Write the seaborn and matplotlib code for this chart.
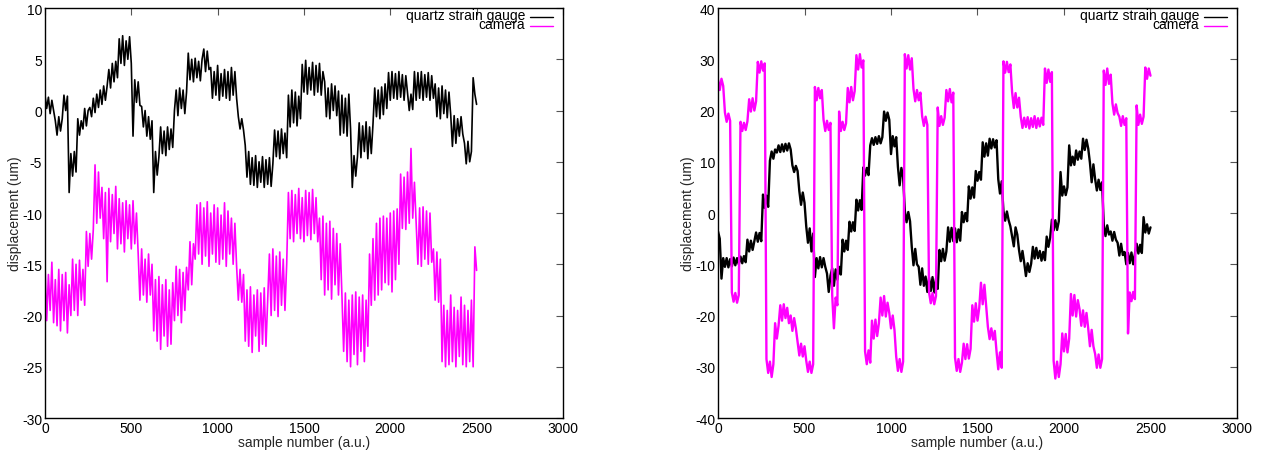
import numpy as np
import matplotlib
matplotlib.use("Agg")
import matplotlib.pyplot as plt
import seaborn as sns

# ---------------- data ----------------
# left panel: one value every 10 samples
left_step = 10
left_quartz = [
    1.5, 0.2, 1.3, -0.3, 1.0, 0.0,
    -1.0, -2.4, -0.6, -2.0, -0.8,
    1.5, 0.0, 1.4,
    -8.0,
    -4.2, -6.4, -4.0, -6.0,
    -0.8, -2.4, -1.0,
    -1.8, 0.2, -1.5, 0.0,
    0.3, -0.6, 1.2, -0.2, 1.6, 0.3, 2.0, 0.6, 2.4, 1.0,
    2.4, 4.0, 2.2, 4.6, 2.8, 4.8, 3.2,
    7.0, 4.6, 7.3, 4.4, 6.8, 5.0, 7.2, 4.6,
    -2.5,
    3.0, 0.8, 2.8, 0.5,
    0.4, -1.6, 0.0, -2.5, -0.6, -2.8, -1.0,
    -8.0,
    -4.0, -6.3, -4.5,
    -1.6, -4.2, -2.0, -4.4, -1.6, -3.8, -1.8, -3.6,
    0.0, 2.0, -0.5, 2.2, 0.2, 2.0, -0.3, 1.8,
    5.6,
    3.0, 5.0, 2.8, 5.1, 3.2, 4.8, 2.9, 5.0,
    6.0, 3.8, 5.8, 4.0,
    4.2, 1.2, 3.8, 1.5, 4.4, 1.0, 3.6, 1.4, 4.0, 1.2, 3.8, 1.0, 4.2, 1.5, 3.8, 1.2,
    -0.6, -1.8, -0.8, -1.9,
    -3.4, -6.5, -4.0, -7.2,
    -4.6, -7.3, -4.4, -7.5, -5.0, -7.0, -4.5, -7.5, -4.8, -7.2, -4.6, -7.4, -5.2,
    -1.9, -4.5, -2.0, -4.7, -1.8, -4.2, -2.2, -4.6,
    1.5, -1.6, 2.0, -1.2, 1.8, -1.5, 1.4, -0.8,
    4.5, 1.8, 4.9, 1.6, 4.2, 2.0, 4.7, 1.5, 4.4, 1.8, 4.6, 1.5, 3.8,
    2.8, -0.6, 2.2, -0.8, 2.6, 0.0, 2.4, -0.5,
    1.9, -2.4, 1.5, -2.2, 1.2, -2.5, 1.6, -1.8,
    -7.5,
    -4.4, -6.4,
    -4.5, -1.2, -4.6, -1.5, -4.0, -1.1, -4.7, -1.6, -4.2, -1.3,
    2.2, -0.6, 2.0, -0.8, 2.3, -0.4, 2.6, 0.2,
    3.7, 1.0, 3.8, 1.2, 3.6, 1.1, 3.8, 1.3, 3.5, 1.0, 3.4,
    1.7, 0.0, 1.6, 0.1,
    3.8, 1.0, 3.7, 1.2, 3.8, 1.0, 3.5, 1.3, 3.7, 1.0, 3.4, 1.2,
    2.6, -0.6, 2.2, -0.8, 2.4, -0.3, 2.0, -0.7, 1.8,
    -0.4, -3.5, -0.5, -3.2, -0.8,
    -2.5, -0.6, -2.3,
    -3.2, -5.2, -3.0, -5.0, -4.0,
    3.2,
    1.6, 0.6,
]
left_camera = [
    -15.0, -20.5, -16.0, -19.5, -14.8, -20.7, -16.5, -21.0, -15.5,
    -21.5, -16.0, -20.5, -15.8, -21.7, -17.0, -20.0,
    -14.5, -19.5, -15.0, -20.0, -14.6, -18.5, -15.5, -19.0,
    -11.8, -15.2, -12.0, -14.5, -11.6,
    -5.3, -11.0, -6.0, -10.5,
    -7.5, -12.5, -8.0, -16.7, -7.6, -12.8, -8.2, -12.0, -7.4,
    -13.5, -8.6, -13.0, -9.0, -13.8, -8.8, -12.5, -9.2, -13.5, -8.8, -13.0, -10.0,
    -14.0, -18.5, -13.5, -18.0, -14.5, -18.7, -14.0, -18.0, -15.0,
    -21.5, -16.5, -22.5, -16.2, -23.3, -17.0, -22.0, -16.5, -23.0, -17.5, -22.8, -16.8,
    -20.5, -15.2, -20.0, -15.5, -20.7, -15.8, -19.5, -15.3,
    -17.5, -12.8, -17.0, -13.0,
    -14.5, -9.2, -14.0, -9.0, -15.0, -9.5, -14.2, -8.9, -15.2, -10.0,
    -14.0, -9.2, -14.8, -9.5, -15.0, -10.2, -14.5, -9.0, -15.2, -9.8,
    -14.0, -10.5, -15.0, -11.0,
    -15.2, -18.5, -15.5, -18.7, -16.0,
    -22.5, -17.5, -23.0, -17.2, -23.6, -18.0, -22.0, -17.5, -23.5, -17.8,
    -22.8, -17.3, -23.0, -18.5,
    -14.0, -20.0, -13.5, -19.5, -14.2, -20.1, -13.8, -19.0, -14.5, -19.5, -15.0,
    -8.0, -12.5, -7.8, -12.8, -8.2, -12.0, -7.6, -12.5, -8.5, -12.8,
    -7.8, -12.2, -8.0, -12.6, -7.7, -12.0, -8.5, -12.8,
    -10.5, -16.5, -10.3, -18.0, -11.0, -17.5, -10.8, -18.4, -11.5, -17.0,
    -12.0, -18.0, -13.0,
    -18.0, -23.5, -17.8, -24.5, -18.5, -25.0, -18.0, -23.8, -17.7, -24.8,
    -18.2, -23.5, -18.0, -24.5, -18.5, -23.0,
    -14.0, -19.0, -12.5, -18.5, -11.0, -18.0, -10.5, -17.5, -10.3, -16.8,
    -10.5, -17.0,
    -10.0, -17.7, -9.8, -16.5, -9.6, -15.0,
    -6.2, -11.5, -6.5, -11.6, -6.0, -11.0, -3.7, -10.5, -7.0, -11.0,
    -15.0, -9.5, -15.2, -9.4, -14.5, -9.8, -15.0, -10.0, -14.8,
    -13.5, -18.5, -13.8, -18.7, -14.5,
    -24.5, -19.0, -25.0, -19.5, -24.8, -18.0, -24.5, -19.2, -25.0, -19.5,
    -24.0, -18.2, -24.8, -19.0, -25.0, -19.5, -24.5, -18.5, -25.0,
    -13.3, -15.6,
]

# right panel: one value every 10 samples
right_step = 10
right_quartz = [
    -3.6, -5.0, -12.8, -8.8,
    -10.5, -8.8, -10.6, -9.0, -10.4, -8.7, -10.2, -8.8, -10.0, -8.5, -9.8, -8.4, -9.6,
    -5.2, -7.5, -5.4, -7.2, -5.5,
    -3.8, -5.6, -3.9, -5.5,
    3.6, 1.0, 3.4, 1.2,
    10.2, 12.0, 10.6, 12.4,
    11.8, 13.2, 11.9, 13.4, 12.0, 13.5, 12.2, 13.6, 12.4,
    9.3, 8.0, 9.2, 8.2,
    4.3, 1.6, 4.0, 2.0,
    -2.6, -5.8, -3.0, -7.5, -4.0,
    -12.5, -8.8, -10.8, -8.6, -10.6, -8.8, -10.5,
    -11.8, -15.4, -12.2,
    -10.8, -14.2, -11.0, -13.0, -10.5, -12.0,
    -5.2, -7.5, -5.4, -7.2,
    -1.7, -3.6, -1.8, -3.5,
    2.6, 0.5, 2.5, 0.6,
    8.9, 7.3, 8.8, 7.4,
    13.2, 14.6, 13.3, 14.8, 13.5, 15.0, 13.6, 14.8,
    19.8, 18.0, 19.6, 18.2,
    11.5, 15.0, 13.0, 14.8,
    9.0, 5.4, 8.8, 7.0,
    0.4, -1.8, 0.2, -1.6,
    -6.6, -10.2, -7.0, -10.0,
    -10.5, -14.0, -10.8, -14.2,
    -12.4, -15.4, -12.6, -15.2, -12.5, -15.5, -12.8, -14.8,
    -7.2, -9.4, -7.0, -9.3, -7.5,
    -2.8, -5.6, -2.9, -5.5, -3.0, -5.7, -3.2, -5.4,
    0.2, -1.8, 0.0, -1.6,
    5.2, 2.8, 5.0, 3.0,
    8.2, 6.3, 8.0, 6.5,
    13.8, 11.0, 13.6, 11.2,
    14.5, 12.6, 14.4, 12.8, 14.2,
    6.6, 3.8, 6.2,
    0.4, -1.5, 0.3, -1.4,
    -2.6, -4.5, -6.5, -2.8, -4.2,
    -7.2, -9.4, -7.4,
    -9.7, -12.3, -9.8, -11.5, -9.9,
    -6.6, -8.9, -6.8, -8.8,
    -7.4, -9.3, -7.6, -9.2,
    -4.6, -6.6, -4.8,
    -1.3, -3.4, -1.4, -3.3, -1.6,
    8.0, 3.4, 5.2, 3.5, 5.0,
    13.2, 9.3, 11.0, 9.4,
    12.2, 10.4, 12.0, 10.6,
    14.5, 12.3, 14.3, 12.6,
    9.8, 6.0, 9.5,
    6.6, 4.4, 6.5, 4.5, 6.0,
    -2.3, -4.5, -2.4, -4.2,
    -3.6, -5.4, -3.7, -5.2,
    -5.8, -8.3, -6.0, -8.2,
    -7.6, -10.0, -7.8, -9.8, -7.7, -10.0, -8.0,
    -6.0, -7.9, -6.2, -7.8,
    -0.8, -3.8, -2.2, -4.0, -2.8,
]
right_camera = [
    26.0, 24.0, 26.2, 24.8,
    19.6, 17.8, 19.4, 18.0,
    -15.5, -17.3, -15.6, -17.5, -16.0,
    17.8, 16.0, 17.6, 16.2, 17.9,
    22.2, 19.8, 22.4, 20.0, 21.8,
    29.5, 27.4, 29.6, 27.8, 29.2,
    -28.5, -31.2, -29.0, -32.0, -29.5,
    -21.5, -24.5, -22.0,
    -18.0, -21.0, -17.8, -20.5, -18.5, -21.5,
    -20.0, -23.0, -20.5, -22.5,
    -25.2, -27.8, -25.5, -28.0, -26.0,
    -28.8, -31.0, -29.0, -31.2, -29.5,
    24.6, 22.0, 24.4, 22.4, 24.0,
    18.2, 16.0, 18.0, 16.2, 17.6,
    -16.0, -22.5, -16.5, -18.0,
    19.8, 16.0, 17.8, 16.2, 17.5,
    24.4, 21.6, 24.6, 22.0, 23.8,
    30.8, 28.0, 31.0, 28.4, 29.8,
    -27.0, -29.5, -26.8, -29.2,
    -21.0, -24.5, -20.8, -24.0, -21.5,
    -16.5, -20.0, -16.2, -20.2, -17.5,
    -19.5, -22.5, -20.0, -22.8,
    -28.0, -30.8, -28.5, -31.0, -29.0,
    31.0, 28.2, 30.8, 28.0, 30.2,
    24.2, 21.8, 24.0, 22.0, 23.5,
    18.9, 17.0, 18.8, 17.2,
    -15.5, -17.6, -15.6, -17.8, -16.2,
    20.6, 17.0, 18.9, 17.2, 18.6,
    24.0, 21.8, 24.2, 21.6, 23.5,
    -28.2, -30.8, -28.5, -31.0, -29.2,
    -25.5, -28.5, -25.6, -28.4, -26.5,
    -18.0, -21.2, -17.6, -21.0, -18.5,
    -13.6, -17.8, -14.0, -18.0,
    -22.2, -24.6, -22.5, -24.7, -23.0,
    -27.0, -30.5, -27.2, -30.2,
    29.6, 27.4, 29.5, 27.5, 29.0,
    23.6, 20.5, 23.4, 20.6, 22.5,
    18.8, 16.6, 18.6, 16.8, 18.7, 16.5, 18.5, 16.8, 18.9, 16.6, 18.5, 16.9, 18.6, 17.2,
    28.2, 25.4, 28.0, 25.6, 27.5,
    -28.8, -32.3, -29.0, -32.0, -29.5,
    -23.5, -27.0, -23.6, -27.2, -24.5,
    -15.8, -20.0, -16.0, -20.2, -17.0,
    -18.8, -22.0, -19.0, -22.2, -19.5,
    -22.5, -26.0, -22.8, -26.0,
    -27.5, -30.2, -27.6, -30.2, -28.5,
    27.8, 25.0, 28.2, 25.2, 27.0,
    21.4, 19.2, 21.2, 19.5,
    18.8, 17.0, 18.9, 17.2, 18.5,
    -23.5, -15.5, -17.2, -15.4, -16.8,
    21.0, 17.2, 19.2, 17.4, 18.8,
    28.4, 26.2, 28.2, 26.8,
]

series_labels = ["quartz strain gauge", "camera"]
series_colors = ["#000000", "#ff00ff"]
x_ticks = [0, 500, 1000, 1500, 2000, 2500, 3000]
left_y_ticks = [-30, -25, -20, -15, -10, -5, 0, 5, 10]
right_y_ticks = [-40, -30, -20, -10, 0, 10, 20, 30, 40]
x_label = "sample number (a.u.)"
y_label = "displacement (um)"

# ---------------- style ----------------
sns.set_theme(style="white")
plt.rcParams["font.family"] = ["Liberation Sans", "DejaVu Sans"]
plt.rcParams.update({
    "xtick.direction": "in", "ytick.direction": "in",
    "xtick.top": True, "ytick.right": True,
    "xtick.major.size": 5, "ytick.major.size": 5,
    "xtick.major.width": 0.8, "ytick.major.width": 0.8,
    "axes.edgecolor": "#000000", "axes.linewidth": 1.0,
    "axes.unicode_minus": False,
    "font.size": 10,
})

fig = plt.figure(figsize=(12.63, 4.52), dpi=100)
ax_l = fig.add_axes([0.0356, 0.0730, 0.4101, 0.9070])
ax_r = fig.add_axes([0.5685, 0.0730, 0.4109, 0.9070])

panels = [
    (ax_l, left_step, [left_quartz, left_camera], left_y_ticks, (-30, 10), 1.2),
    (ax_r, right_step, [right_quartz, right_camera], right_y_ticks, (-40, 40), 1.7),
]

for ax, step, data, yticks, ylim, lw in panels:
    for vals, col in zip(data, series_colors):
        samples = np.arange(len(vals)) * step
        sns.lineplot(x=samples, y=vals, ax=ax, color=col, linewidth=lw,
                     estimator=None, sort=False, legend=False)
    ax.set_xlim(0, 3000)
    ax.set_ylim(*ylim)
    ax.set_xticks(x_ticks)
    ax.set_yticks(yticks)
    ax.tick_params(labelsize=10, pad=2, colors="#000000", color="#555555")
    ax.set_xlabel(x_label, fontsize=10, labelpad=0)
    ax.set_ylabel(y_label, fontsize=10, labelpad=0)
    for sp in ax.spines.values():
        sp.set_visible(True)
        sp.set_color("#000000")
    # gnuplot-style key: right-aligned text followed by a line sample
    key_y = [0.984, 0.962]
    for lab, col, ky in zip(series_labels, series_colors, key_y):
        ax.text(0.927, ky, lab, transform=ax.transAxes, ha="right",
                va="center", fontsize=10, color="#000000")
        ax.plot([0.936, 0.981], [ky - 0.005, ky - 0.005], transform=ax.transAxes,
                color=col, linewidth=1.0)

fig.savefig("out.png", dpi=100)
